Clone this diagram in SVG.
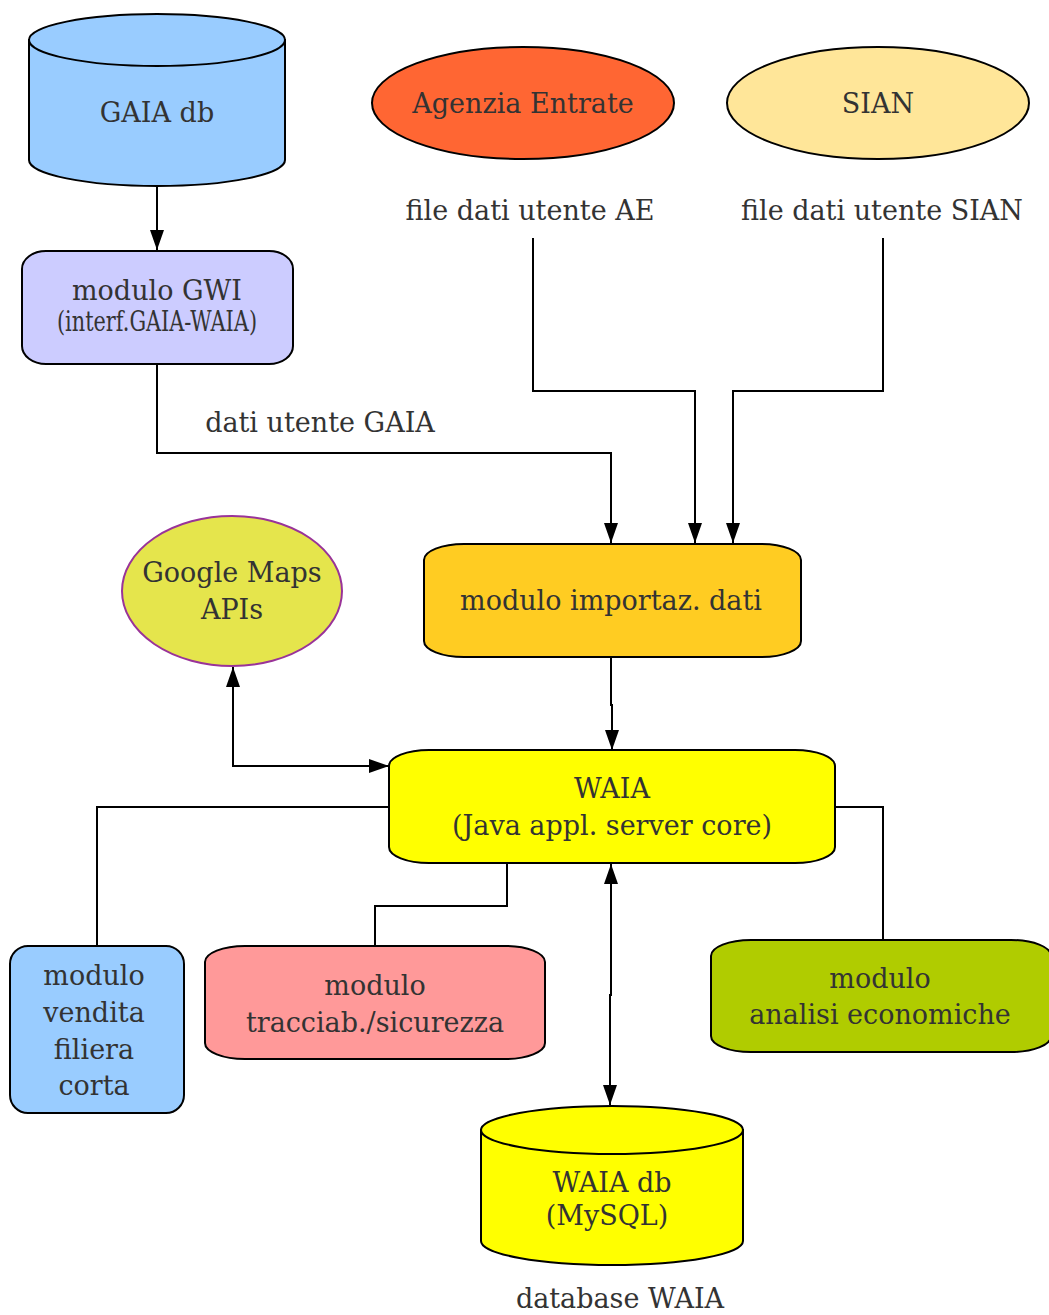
<svg xmlns="http://www.w3.org/2000/svg" width="1049" height="1315" viewBox="0 0 1049 1315">
<style>
.s{stroke:#000;stroke-width:2}
.t{font-family:"DejaVu Serif","Liberation Serif",serif;fill:#333;text-anchor:middle;font-size:27px}
.c{fill:none;stroke:#000;stroke-width:2}
</style>
<defs>
<marker id="ah" viewBox="0 0 20 14" refX="20" refY="7" markerWidth="20" markerHeight="14" markerUnits="userSpaceOnUse" orient="auto-start-reverse">
<path d="M0,0 L20,7 L0,14 Z" fill="#000"/>
</marker>
</defs>
<rect width="1049" height="1315" fill="#fff"/>
<g id="connectors">
<path class="c" d="M157,186 L157,250" marker-end="url(#ah)"/>
<path class="c" d="M157,364 L157,453 L611,453 L611,543" marker-end="url(#ah)"/>
<path class="c" d="M533,238 L533,391 L695,391 L695,543" marker-end="url(#ah)"/>
<path class="c" d="M883,238 L883,391 L733,391 L733,543" marker-end="url(#ah)"/>
<path class="c" d="M611,657 L611,705 L612,705 L612,750" marker-end="url(#ah)"/>
<path class="c" d="M233,667 L233,766 L389,766" marker-start="url(#ah)" marker-end="url(#ah)"/>
<path class="c" d="M389,807 L97,807 L97,946"/>
<path class="c" d="M507,863 L507,906 L375,906 L375,946"/>
<path class="c" d="M835,807 L883,807 L883,940"/>
<path class="c" d="M611,864 L611,995 L610,995 L610,1105" marker-start="url(#ah)" marker-end="url(#ah)"/>
<text class="t" x="320" y="432" font-size="28">dati utente GAIA</text>
<text class="t" x="530" y="220" font-size="27.5">file dati utente AE</text>
<text class="t" x="882" y="220" font-size="27.5">file dati utente SIAN</text>
</g>
<g id="gaia-db">
<path class="s" fill="#99ccff" d="M29,40 L29,160 A128,26 0 0 0 285,160 L285,40 Z"/>
<ellipse class="s" fill="#99ccff" cx="157" cy="40" rx="128" ry="26"/>
<text class="t" x="157" y="122">GAIA db</text>
</g>
<g id="gwi">
<rect class="s" fill="#ccccff" x="22" y="251" width="271" height="113" rx="24" ry="18"/>
<text class="t" x="157" y="300" font-size="26">modulo GWI</text>
<text class="t" x="157" y="331" font-size="16" textLength="200" lengthAdjust="spacingAndGlyphs">(interf.GAIA-WAIA)</text>
</g>
<g id="agenzia">
<ellipse class="s" fill="#ff6633" cx="523" cy="103" rx="151" ry="56"/>
<text class="t" x="523" y="113">Agenzia Entrate</text>
</g>
<g id="sian">
<ellipse class="s" fill="#ffe699" cx="878" cy="103" rx="151" ry="56"/>
<text class="t" x="878" y="113">SIAN</text>
</g>
<g id="import">
<rect class="s" fill="#ffcc22" x="424" y="544" width="377" height="113" rx="40" ry="16"/>
<text class="t" x="611" y="610" font-size="28">modulo importaz. dati</text>
</g>
<g id="google">
<ellipse fill="#e5e54c" stroke="#993399" stroke-width="2" cx="232" cy="591" rx="110" ry="75"/>
<text class="t" x="232" y="582">Google Maps</text>
<text class="t" x="232" y="619">APIs</text>
</g>
<g id="waia">
<rect class="s" fill="#ffff00" x="389" y="750" width="446" height="113" rx="40" ry="16"/>
<text class="t" x="612" y="798" font-size="28">WAIA</text>
<text class="t" x="612" y="835" font-size="28">(Java appl. server core)</text>
</g>
<g id="vendita">
<rect class="s" fill="#99ccff" x="10" y="946" width="174" height="167" rx="18" ry="18"/>
<text class="t" x="94" y="985">modulo</text>
<text class="t" x="94" y="1022">vendita</text>
<text class="t" x="94" y="1059">filiera</text>
<text class="t" x="94" y="1095">corta</text>
</g>
<g id="tracciab">
<rect class="s" fill="#ff9999" x="205" y="946" width="340" height="113" rx="40" ry="16"/>
<text class="t" x="375" y="995">modulo</text>
<text class="t" x="375" y="1032">tracciab./sicurezza</text>
</g>
<g id="analisi">
<rect class="s" fill="#b0cc00" x="711" y="940" width="340" height="112" rx="40" ry="16"/>
<text class="t" x="880" y="988">modulo</text>
<text class="t" x="880" y="1024">analisi economiche</text>
</g>
<g id="waia-db">
<path class="s" fill="#ffff00" d="M481,1130 L481,1241 A131,24 0 0 0 743,1241 L743,1130 Z"/>
<ellipse class="s" fill="#ffff00" cx="612" cy="1130" rx="131" ry="24"/>
<text class="t" x="612" y="1192">WAIA db</text>
<text class="t" x="607" y="1225" font-size="22">(MySQL)</text>
<text class="t" x="620" y="1308">database WAIA</text>
</g>
</svg>
